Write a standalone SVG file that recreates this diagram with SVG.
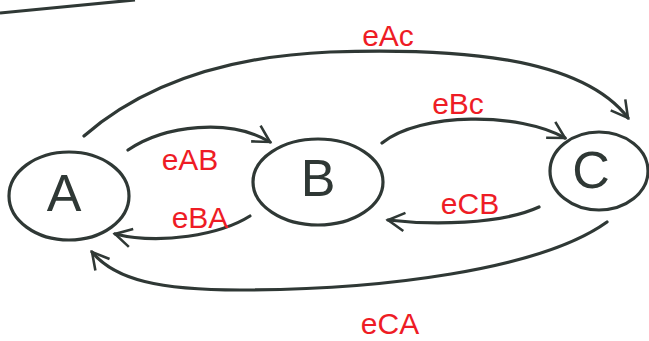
<svg xmlns="http://www.w3.org/2000/svg" width="649" height="341" viewBox="0 0 649 341">
<style>
.node{fill:none;stroke:#2f3835;stroke-width:3.2}
.lbl{font-family:"Liberation Sans",Arial,sans-serif;font-size:52px;fill:#2f3835;text-anchor:middle;dominant-baseline:central}
.edge{fill:none;stroke:#2f3835;stroke-width:3.2;stroke-linecap:round}
.el{font-family:"Liberation Sans",Arial,sans-serif;font-size:30px;fill:#ee1c25;text-anchor:middle}
</style>
<defs>
<marker id="ah2" viewBox="0 0 12 12" refX="10" refY="6" markerWidth="22" markerHeight="22" orient="auto" markerUnits="userSpaceOnUse">
<path d="M1,1 L10,6 L1,11" fill="none" stroke="#2f3835" stroke-width="1.4" stroke-linejoin="miter"/>
</marker>
</defs>
<line x1="0" y1="13" x2="135" y2="0" stroke="#2f3835" stroke-width="3.2"/>
<g id="A"><ellipse class="node" cx="69" cy="196" rx="60" ry="44"/><text class="lbl" x="64" y="193">A</text></g>
<g id="B"><ellipse class="node" cx="318" cy="182" rx="65" ry="43"/><text class="lbl" x="318" y="178">B</text></g>
<g id="C"><ellipse class="node" cx="599" cy="171" rx="49" ry="39"/><text class="lbl" x="591" y="170">C</text></g>
<g id="edges">
<path class="edge" marker-end="url(#ah2)" d="M84,136 C160,70 260,55 330,52 C450,48 580,55 628,118"/>
<path class="edge" marker-end="url(#ah2)" d="M128,150 C165,125 230,118 270,142"/>
<path class="edge" marker-end="url(#ah2)" d="M250,216 C220,235 160,245 115,234"/>
<path class="edge" marker-end="url(#ah2)" d="M382,143 C420,112 520,112 565,138"/>
<path class="edge" marker-end="url(#ah2)" d="M539,207 C500,225 430,225 388,220"/>
<path class="edge" marker-end="url(#ah2)" d="M607,222 C540,270 380,290 240,290 C160,290 115,280 92,252"/>
<text class="el" x="388" y="46">eAc</text>
<text class="el" x="458" y="114">eBc</text>
<text class="el" x="190" y="170">eAB</text>
<text class="el" x="200" y="228">eBA</text>
<text class="el" x="470" y="214">eCB</text>
<text class="el" x="390" y="334">eCA</text>
</g>
</svg>
